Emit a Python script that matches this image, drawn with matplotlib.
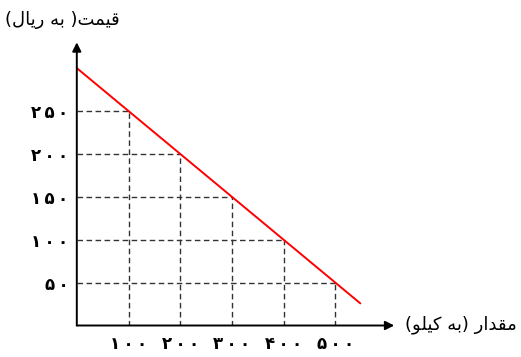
import matplotlib
matplotlib.use("Agg")
from matplotlib import pyplot as plt

plt.rcParams['font.family'] = ['DejaVu Sans']

# demand schedule (quantity in kilos, price in rials)
quantities = [100, 200, 300, 400, 500]
prices = [250, 200, 150, 100, 50]

# red demand line at its two ends
line_q = [0, 548]
line_p = [300, 26]

x_tick_labels = ['۱۰۰', '۲۰۰', '۳۰۰', '۴۰۰', '۵۰۰']
y_tick_labels = ['۲۵۰', '۲۰۰', '۱۵۰', '۱۰۰', '۵۰']

# Persian text written in visual order with presentation forms (no shaping in matplotlib)
price_label = '(\uFEDD\uFE8E\uFEF3\uFEAD \uFEEA\uFE91 )\uFE96\uFEE4\uFEF4\uFED7'
qty_label = '(\uFEEE\uFEE0\uFEF4\uFEDB \uFEEA\uFE91) \uFEAD\uFE8D\uFEAA\uFED8\uFEE3'


def spaced(s):
    # digits in the reference are set loosely
    return '\u2009'.join(s)


W, H = 521, 357
fig = plt.figure(figsize=(W / 100, H / 100), dpi=100, facecolor="white")

x0, y0 = 76.8, 325.5      # origin in pixels
sx, sy = 0.517, 0.858     # pixels per unit
xmax, ymax = 614, 330
ax = fig.add_axes([x0 / W, (H - y0) / H, xmax * sx / W, ymax * sy / H])
ax.set_xlim(0, xmax)
ax.set_ylim(0, ymax)
for s in ax.spines.values():
    s.set_visible(False)

# dashed guides
for q, p in zip(quantities, prices):
    ax.plot([0, q], [p, p], ls=(0, (4, 2.5)), color="#333333", lw=1)
    ax.plot([q, q], [0, p], ls=(0, (4, 2.5)), color="#333333", lw=1)

ax.plot(line_q, line_p, color="red", lw=1.4, zorder=3)

# axes with arrows
arrow = dict(arrowstyle="-|>", mutation_scale=13, lw=1.4, color="black", shrinkA=0, shrinkB=0)
ax.annotate("", xy=(xmax, 0), xytext=(0, 0), arrowprops=arrow, annotation_clip=False)
ax.annotate("", xy=(0, ymax), xytext=(0, 0), arrowprops=arrow, annotation_clip=False)

ax.set_xticks(quantities, [spaced(t) for t in x_tick_labels], fontsize=12, fontweight="bold")
ax.set_yticks(prices, [spaced(t) for t in y_tick_labels], fontsize=12, fontweight="bold")
ax.tick_params(axis="both", length=0)
ax.tick_params(axis="x", pad=7)
ax.tick_params(axis="y", pad=6)

fig.text(5 / W, 1 - 20 / H, price_label, fontsize=13, ha="left", va="center")
fig.text(405 / W, 1 - 325 / H, qty_label, fontsize=13, ha="left", va="center")

fig.savefig("out.png", dpi=100)
